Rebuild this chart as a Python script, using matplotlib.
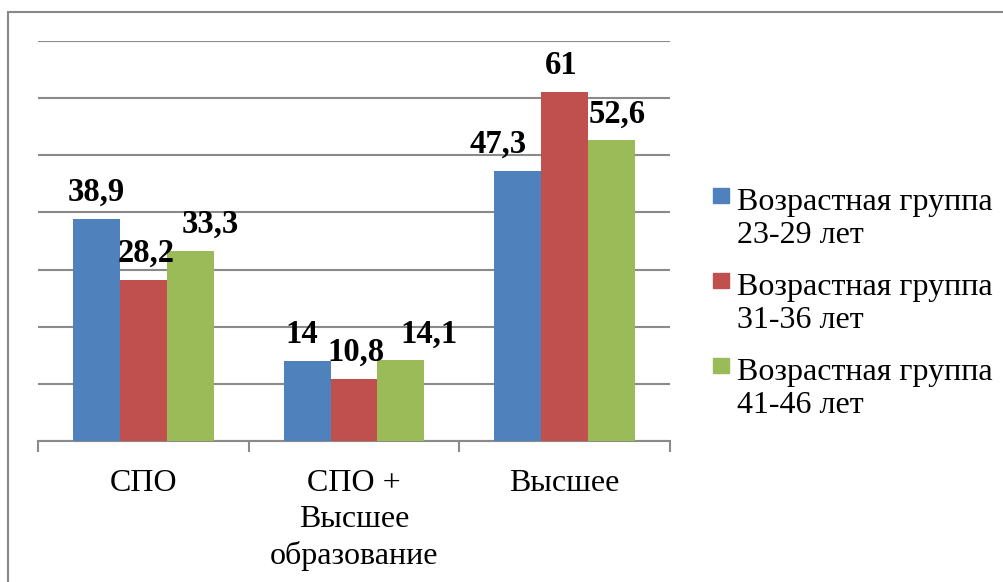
import numpy as np
import matplotlib.pyplot as plt
from matplotlib.patches import Rectangle

plt.rcParams["font.family"] = ["Liberation Serif", "DejaVu Serif"]

categories = ["СПО", "СПО +\nВысшее\nобразование", "Высшее"]
series_names = [
    "Возрастная группа\n23-29 лет",
    "Возрастная группа\n31-36 лет",
    "Возрастная группа\n41-46 лет",
]
group_23_29 = [38.9, 14, 47.3]
group_31_36 = [28.2, 10.8, 61]
group_41_46 = [33.3, 14.1, 52.6]
value_labels = [
    ["38,9", "14", "47,3"],
    ["28,2", "10,8", "61"],
    ["33,3", "14,1", "52,6"],
]

colors = ["#4F81BD", "#C0504D", "#9BBB59"]
# manual label nudges (px) as in the original
nudges = [[0, -5, -20], [3, 2, -3], [20, 28, 6]]

W, H = 1004, 582
fig = plt.figure(figsize=(W / 100, H / 100), dpi=100)
ax = fig.add_axes([38 / W, 1 - 441 / H, (670 - 38) / W, (441 - 41) / H])

x = np.arange(len(categories))
width = 0.2227
series = [group_23_29, group_31_36, group_41_46]
for i, vals in enumerate(series):
    pos = x + (i - 1) * width
    ax.bar(pos, vals, width, color=colors[i], zorder=3)
    for j, (p, v) in enumerate(zip(pos, vals)):
        ax.annotate(value_labels[i][j], (p, v), xytext=(nudges[i][j] * 0.72, 8),
                    textcoords="offset points", ha="center", va="bottom",
                    fontsize=23.5, fontweight="bold", zorder=4)

ax.set_xlim(-0.5, 2.5)
ax.set_ylim(0, 70)
ax.set_yticks(np.arange(0, 71, 10))
ax.yaxis.grid(True, color="#8a8a8a", linewidth=1.5, zorder=0)
ax.tick_params(axis="y", left=False, labelleft=False)

ax.set_xticks(x)
ax.set_xticklabels(categories, fontsize=23, linespacing=1.32)
ax.set_xticks([-0.5, 0.5, 1.5, 2.5], minor=True)
ax.tick_params(axis="x", which="major", length=0, pad=20)
ax.tick_params(axis="x", which="minor", length=8, width=1.5, color="#8a8a8a",
               direction="out")

for s in ["top", "right", "left"]:
    ax.spines[s].set_visible(False)
ax.spines["bottom"].set_color("#8a8a8a")
ax.spines["bottom"].set_linewidth(1.5)

# legend (first line baseline at 208 px, next entries 85 px lower)
for i, name in enumerate(series_names):
    base = 208 + 85 * i
    fig.patches.append(Rectangle((713 / W, 1 - (base - 5) / H), 16 / W, 15 / H,
                                 transform=fig.transFigure, color=colors[i]))
    fig.text(737 / W, 1 - (base + 35) / H, name, fontsize=23, va="baseline",
             ha="left", linespacing=1.2)

# outer frame
fig.patches.append(Rectangle((8 / W, -0.1), 1.2, 1 - 12 / H + 0.1,
                             transform=fig.transFigure, fill=False,
                             edgecolor="#888888", linewidth=1.5))

fig.savefig("out.png", dpi=100)
